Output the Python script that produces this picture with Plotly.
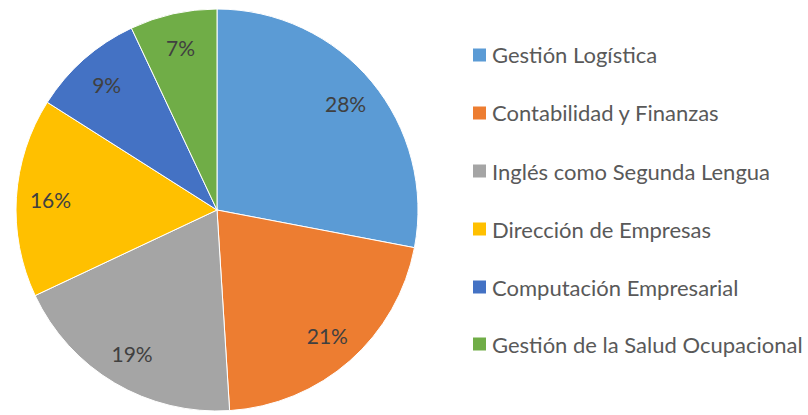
import plotly.graph_objects as go

labels = ["Gestión Logística", "Contabilidad y Finanzas", "Inglés como Segunda Lengua",
          "Dirección de Empresas", "Computación Empresarial", "Gestión de la Salud Ocupacional"]
values = [28, 21, 19, 16, 9, 7]
colors = ["#5B9BD5", "#ED7D31", "#A5A5A5", "#FFC000", "#4472C4", "#70AD47"]

W, H = 808, 415
FONT = "Lato, Carlito, Calibri, sans-serif"
dom = dict(x=[16/W, 418/W], y=[4/H, 406/H])

fig = go.Figure()
# coloured slices
fig.add_trace(go.Pie(
    labels=labels, values=values, sort=False, direction="clockwise", rotation=0,
    marker=dict(colors=colors, line=dict(color="white", width=1)),
    textinfo="none", domain=dom, showlegend=False, hoverinfo="label+percent",
))
# transparent ring used only to place the percentage labels towards the rim
fig.add_trace(go.Pie(
    labels=labels, values=values, sort=False, direction="clockwise", rotation=0,
    hole=0.66,
    marker=dict(colors=["rgba(0,0,0,0)"] * len(values), line=dict(width=0)),
    texttemplate="%{percent:.0%}", textposition="inside", insidetextorientation="horizontal",
    textfont=dict(family=FONT, size=21, color="#404040"),
    domain=dom, showlegend=False, hoverinfo="skip",
))

legend_y = [55, 113, 171, 229, 287, 344]
shapes, annotations = [], []
for lab, col, yc in zip(labels, colors, legend_y):
    shapes.append(dict(type="rect", xref="paper", yref="paper",
                       x0=473/W, x1=486/W, y0=1-(yc+6.5)/H, y1=1-(yc-6.5)/H,
                       fillcolor=col, line=dict(width=0)))
    annotations.append(dict(xref="paper", yref="paper", x=490/W, y=1-yc/H,
                            xanchor="left", yanchor="middle", showarrow=False,
                            text=lab, font=dict(family=FONT, size=22, color="#595959")))

fig.update_layout(width=W, height=H, margin=dict(l=0, r=0, t=0, b=0),
                  paper_bgcolor="white", plot_bgcolor="white",
                  shapes=shapes, annotations=annotations)
fig.write_html("out.html", config={"displayModeBar": False},
               post_script="document.body.style.margin='0';")
